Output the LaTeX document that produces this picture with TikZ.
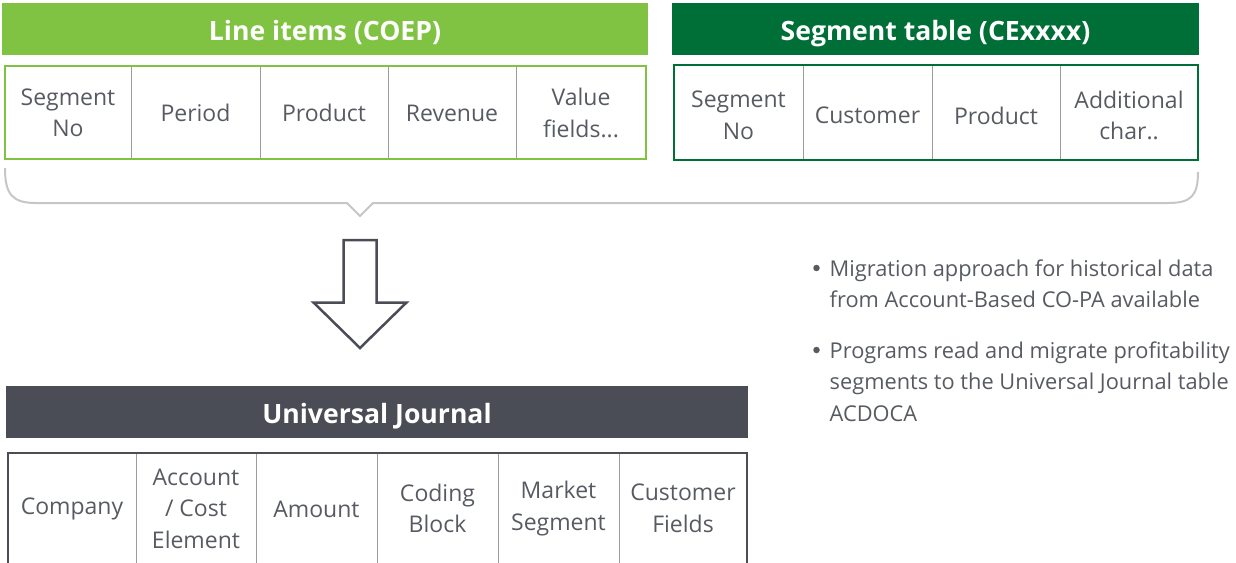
\documentclass[tikz,border=0pt]{standalone}
\usepackage{fontspec}
\setmainfont{Open Sans}
\definecolor{lgreen}{HTML}{80C342}
\definecolor{dgreen}{HTML}{006E37}
\definecolor{dgray}{HTML}{4A4D55}
\definecolor{txtg}{HTML}{575B61}
\definecolor{divg}{HTML}{9C9C9C}
\definecolor{braceg}{HTML}{C6C6C6}
\begin{document}
\begin{tikzpicture}[x=1pt,y=-1pt,
  hdr/.style={inner sep=0pt, outer sep=0pt, text=white, text height=24pt, text depth=2pt,
    font=\bfseries\fontsize{26.6}{30}\selectfont},
  cellbox/.style={draw=divg, line width=1pt, inner sep=0pt, outer sep=0pt},
  ctext/.style={inner sep=0pt, align=center, text=txtg, font=\fontsize{23}{31.5}\selectfont},
  bul/.style={inner sep=0pt, align=left, anchor=north west, text=txtg,
    font=\fontsize{21.8}{31.5}\selectfont},
  dot/.style={circle, fill=txtg, inner sep=0pt, minimum size=6.5pt},
]
\useasboundingbox (0,0) rectangle (1236,562);

% ---------- Line items (COEP)
\node[hdr, fill=lgreen, minimum width=646pt, minimum height=52pt] (h1) at (325,29) {Line items (COEP)};
\foreach \i/\xa/\xb/\t in {1/5/131/{Segment\\No},2/131/260/{Period},3/260/388/{Product},4/388/516/{Revenue},5/516/646/{Value\\fields...}}{
  \node[cellbox, minimum width={(\xb-\xa)*1pt}, minimum height=93pt] (a\i) at ({(\xa+\xb)/2},112.5) {};
  \node[ctext] (at\i) at ({(\xa+\xb)/2},113) {\t};
}
\draw[lgreen, line width=2.5pt] (a1.north west) rectangle (a5.south east);

% ---------- Segment table (CExxxx)
\node[hdr, fill=dgreen, minimum width=527pt, minimum height=52pt] (h2) at (935.5,29) {Segment table (CExxxx)};
\foreach \i/\xa/\xb/\t in {1/674/803/{Segment\\No},2/803/932/{Customer},3/932/1060/{Product},4/1060/1198/{Additional\\char..}}{
  \node[cellbox, minimum width={(\xb-\xa)*1pt}, minimum height=95pt] (b\i) at ({(\xa+\xb)/2},112.5) {};
  \node[ctext] (bt\i) at ({(\xa+\xb)/2},115.5) {\t};
}
\draw[dgreen, line width=2.5pt] (b1.north west) rectangle (b4.south east);

% ---------- brace
\coordinate (brL) at (5,168);
\coordinate (brR) at (1198,172);
\coordinate (brT) at (360,216);
\draw[braceg, line width=2pt, line join=miter] (brL) .. controls (5,194) and (12,203) .. (36,203)
  -- (347,203) -- (brT) -- (373,203) -- (1168,203) .. controls (1191,203) and (1198,196) .. (brR);

% ---------- arrow
\draw[dgray, line width=2.5pt, fill=white, line join=miter]
  (343.5,240) -- (376.5,240) -- (376.5,302.5) -- (406.5,302.5) -- (360,348)
  -- (313.5,302.5) -- (343.5,302.5) -- cycle;

% ---------- Universal Journal
\node[hdr, fill=dgray, minimum width=742pt, minimum height=52pt] (h3) at (377,412) {Universal Journal};
\foreach \i/\xa/\xb in {1/8/136,2/136/256,3/256/377,4/377/498,5/498/619,6/619/747}{
  \draw[divg, line width=1pt] (\xa,453) rectangle (\xb,575);
}
\node[ctext] (u1) at (72,509) {Company};
\node[ctext] (u2) at (196,508.5) {Account\\/ Cost\\Element};
\node[ctext] (u3) at (316.5,509) {Amount};
\node[ctext] (u4) at (437.5,508.5) {Coding\\Block};
\node[ctext] (u5) at (558.5,508.5) {Market\\Segment};
\node[ctext] (u6) at (683,508.5) {Customer\\Fields};
\draw[dgray, line width=2.5pt] (8,575) -- (8,453) -- (747,453) -- (747,575);

% ---------- bullets
\node[bul] (t1) at (829.5,259.6) {Migration approach for historical data\\from Account-Based CO-PA available};
\node[dot] (d1) at (816.5,268) {};
\node[bul] (t2) at (829.5,341.6) {Programs read and migrate profitability\\segments to the Universal Journal table\\ACDOCA};
\node[dot] (d2) at (816.5,350) {};
\end{tikzpicture}
\end{document}
